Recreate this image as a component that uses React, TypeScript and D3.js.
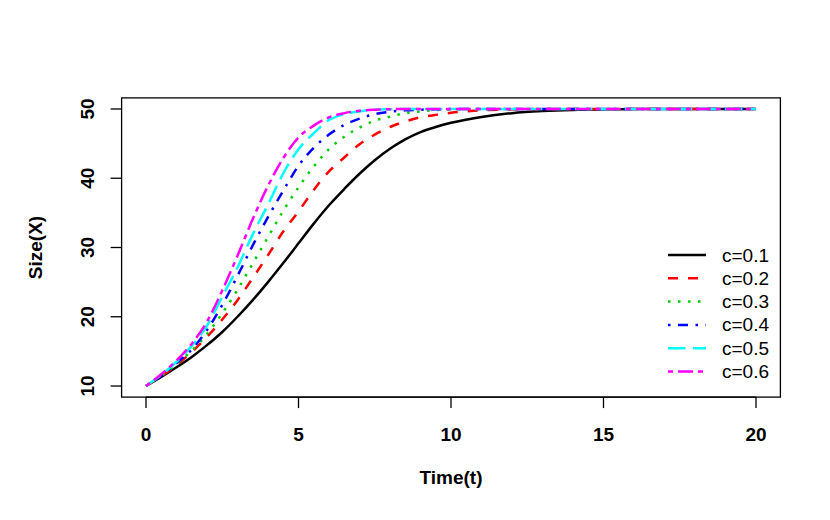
import React from "react";
import * as d3 from "d3";

const times = [0, 0.5, 1, 1.5, 2, 2.5, 3, 3.5, 4, 4.5, 5, 5.5, 6, 6.5, 7, 7.5, 8, 8.5, 9, 9.5, 10, 11, 12, 13, 14, 15, 16, 17, 18, 19, 20];

const c01 = [10, 11.3, 12.7, 14.2, 15.9, 17.8, 20.0, 22.4, 25.0, 27.75, 30.6, 33.45, 36.1, 38.45, 40.65, 42.6, 44.25, 45.6, 46.65, 47.4, 48.0, 48.85, 49.4, 49.7, 49.87, 49.95, 49.98, 50, 50, 50, 50];
const c02 = [10, 11.4, 13.0, 14.9, 17.1, 19.6, 22.4, 25.6, 28.9, 32.3, 35.2, 38.3, 41.0, 43.0, 44.9, 46.3, 47.4, 48.2, 48.8, 49.15, 49.45, 49.8, 49.93, 49.98, 50, 50, 50, 50, 50, 50, 50];
const c03 = [10, 11.5, 13.2, 15.1, 17.5, 20.5, 23.9, 27.7, 31.5, 35.3, 38.7, 41.7, 44.2, 46.0, 47.3, 48.3, 48.9, 49.4, 49.65, 49.85, 49.93, 50, 50, 50, 50, 50, 50, 50, 50, 50, 50];
const c04 = [10, 11.5, 13.3, 15.3, 18.1, 21.7, 25.9, 30.3, 34.4, 38.2, 41.8, 44.4, 46.3, 47.7, 48.6, 49.25, 49.6, 49.8, 49.9, 49.95, 50, 50, 50, 50, 50, 50, 50, 50, 50, 50, 50];
const c05 = [10, 11.6, 13.5, 15.8, 18.7, 22.9, 27.1, 31.9, 36.2, 40.7, 44.2, 46.5, 48.4, 49.25, 49.65, 49.9, 49.97, 50, 50, 50, 50, 50, 50, 50, 50, 50, 50, 50, 50, 50, 50];
const c06 = [10, 11.7, 13.7, 16.1, 19.3, 23.8, 28.8, 34.1, 38.9, 42.9, 45.9, 47.6, 48.8, 49.4, 49.75, 49.9, 49.97, 50, 50, 50, 50, 50, 50, 50, 50, 50, 50, 50, 50, 50, 50];

const seriesLabels = ["c=0.1", "c=0.2", "c=0.3", "c=0.4", "c=0.5", "c=0.6"];
const seriesValues = [c01, c02, c03, c04, c05, c06];
const seriesColors = ["#000000", "#ff0000", "#00cd00", "#0000ff", "#00ffff", "#ff00ff"];
const seriesDash = ["none", "10,10", "2.5,7.5", "2.5,7.5,10,7.5", "17.5,7.5", "5,5,15,5"];

const xTicks = [0, 5, 10, 15, 20];
const yTicks = [10, 20, 30, 40, 50];

const W = 830;
const H = 520;
const FONT = "'Liberation Sans', Arial, Helvetica, sans-serif";

export default function App() {
  const left = 121.6, right = 780.4, top = 97.9, bottom = 397.1;
  const x = d3.scaleLinear().domain([-0.8, 20.8]).range([left, right]);
  const y = d3.scaleLinear().domain([8.4, 51.6]).range([bottom, top]);
  const line = d3
    .line<number>()
    .x((_, i) => x(times[i]))
    .y((d) => y(d))
    .curve(d3.curveMonotoneX);

  const legX0 = 668, legX1 = 706, legTextX = 722, legY0 = 255, legDy = 23.3;

  return (
    <svg
      width={W}
      height={H}
      style={{ position: "absolute", left: 0, top: 0, background: "#fff" }}
      fontFamily={FONT}
    >
      <rect x={0} y={0} width={W} height={H} fill="#fff" />
      <defs>
        <clipPath id="plotclip">
          <rect x={left} y={top} width={right - left} height={bottom - top} />
        </clipPath>
      </defs>
      <g clipPath="url(#plotclip)">
        {seriesValues.map((vals, i) => (
          <path
            key={i}
            d={line(vals) || ""}
            fill="none"
            stroke={seriesColors[i]}
            strokeWidth={2.5}
            strokeDasharray={seriesDash[i]}
            strokeLinejoin="round"
          />
        ))}
      </g>
      <rect x={left} y={top} width={right - left} height={bottom - top} fill="none" stroke="#000" strokeWidth={1.3} />
      {/* x axis */}
      <line x1={x(0)} x2={x(20)} y1={bottom} y2={bottom} stroke="#000" strokeWidth={1.3} />
      {xTicks.map((t) => (
        <g key={t}>
          <line x1={x(t)} x2={x(t)} y1={bottom} y2={bottom + 11} stroke="#000" strokeWidth={1.3} />
          <text x={x(t)} y={434} textAnchor="middle" dominantBaseline="central" fontSize={19} fontWeight="bold">
            {t}
          </text>
        </g>
      ))}
      {/* y axis */}
      {yTicks.map((v) => (
        <g key={v}>
          <line x1={left} x2={left - 11} y1={y(v)} y2={y(v)} stroke="#000" strokeWidth={1.3} />
          <text
            transform={`translate(87.5,${y(v)}) rotate(-90)`}
            textAnchor="middle"
            dominantBaseline="central"
            fontSize={19}
            fontWeight="bold"
          >
            {v}
          </text>
        </g>
      ))}
      <text x={(left + right) / 2} y={477} textAnchor="middle" dominantBaseline="central" fontSize={19} fontWeight="bold">
        Time(t)
      </text>
      <text
        transform={`translate(35,${(top + bottom) / 2}) rotate(-90)`}
        textAnchor="middle"
        dominantBaseline="central"
        fontSize={19}
        fontWeight="bold"
      >
        Size(X)
      </text>
      {/* legend */}
      {seriesLabels.map((lab, i) => (
        <g key={lab}>
          <line
            x1={legX0}
            x2={legX1}
            y1={legY0 + i * legDy}
            y2={legY0 + i * legDy}
            stroke={seriesColors[i]}
            strokeWidth={2.5}
            strokeDasharray={seriesDash[i]}
          />
          <text x={legTextX} y={legY0 + i * legDy} dominantBaseline="central" fontSize={19}>
            {lab}
          </text>
        </g>
      ))}
    </svg>
  );
}
